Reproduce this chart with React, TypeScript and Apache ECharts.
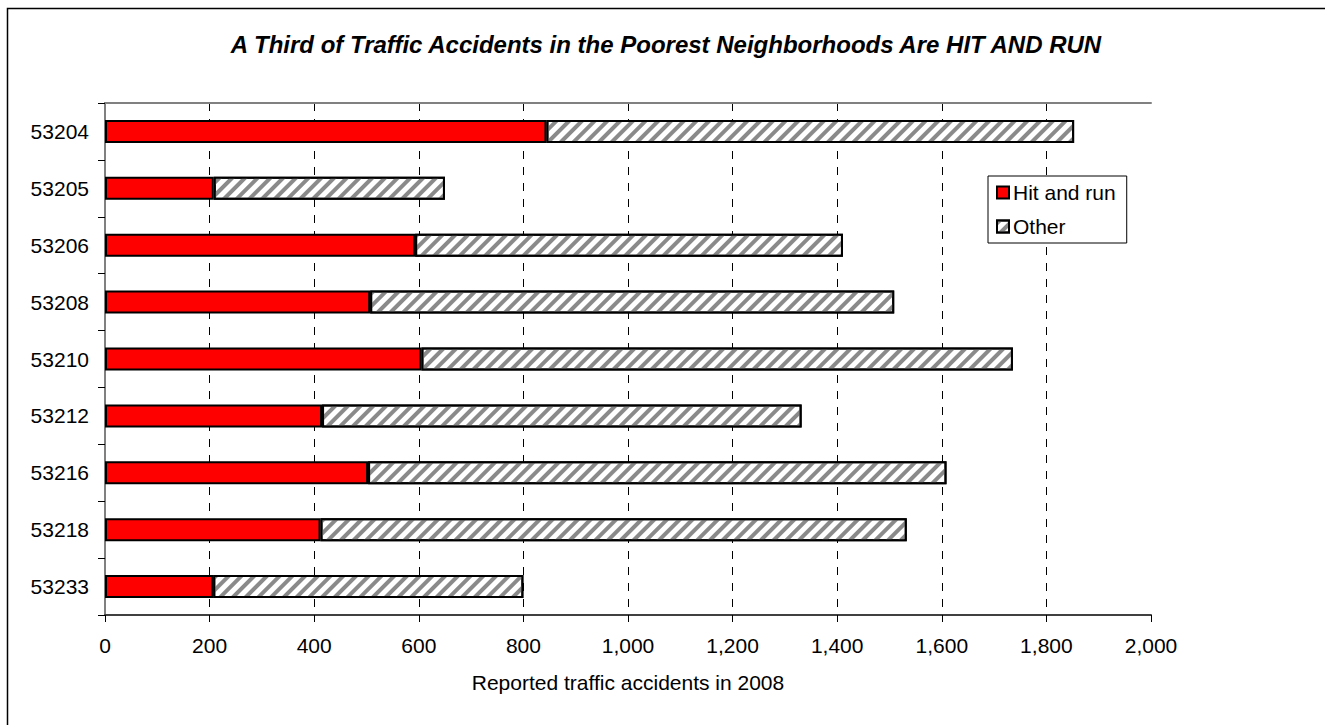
import React, { useEffect, useRef } from "react";
import * as echarts from "echarts";

const categories = ["53204", "53205", "53206", "53208", "53210", "53212", "53216", "53218", "53233"];
const hitAndRun = [844, 208, 593, 507, 605, 415, 503, 412, 207];
const other = [1009, 442, 818, 1002, 1131, 917, 1106, 1121, 593];
const seriesNames = ["Hit and run", "Other"];
const titleText = "A Third of Traffic Accidents in the Poorest Neighborhoods Are HIT AND RUN";
const xAxisTitle = "Reported traffic accidents in 2008";

const FONT = "'Liberation Sans', Arial, Helvetica, sans-serif";

export default function App() {
  const ref = useRef<HTMLDivElement>(null);
  useEffect(() => {
    if (!ref.current) return;
    const chart = echarts.init(ref.current, undefined, { renderer: "svg" });
    const fmt = (v: number) => v.toLocaleString("en-US");
    chart.setOption({
      animation: false,
      backgroundColor: "#ffffff",
      textStyle: { fontFamily: FONT },
      graphic: [
        {
          type: "rect",
          shape: { x: 7.5, y: 8.5, width: 1400, height: 800 },
          style: { fill: "none", stroke: "#000", lineWidth: 1.5 },
          silent: true,
          z: -1,
        },
        {
          type: "text",
          x: 666,
          y: 44,
          style: {
            text: titleText,
            font: `italic bold 24px ${FONT}`,
            fill: "#000",
            textAlign: "center",
            textVerticalAlign: "middle",
          },
        },
      ],
      legend: {
        data: seriesNames,
        orient: "vertical",
        left: 988,
        top: 176,
        padding: [6, 11, 6, 8],
        itemGap: 13,
        itemWidth: 12,
        itemHeight: 12,
        icon: "rect",
        backgroundColor: "#fff",
        borderColor: "#000",
        borderWidth: 1,
        textStyle: { fontSize: 21, color: "#000", fontFamily: FONT, padding: [0, 0, 0, -1] },
      },
      grid: { left: 105, top: 103, right: 174, bottom: 110, containLabel: false },
      xAxis: [
        {
          type: "value",
          min: 0,
          max: 2000,
          interval: 200,
          name: xAxisTitle,
          nameLocation: "middle",
          nameGap: 57,
          nameTextStyle: { fontSize: 21, color: "#000", fontFamily: FONT },
          axisLine: { show: true, lineStyle: { color: "#404040", width: 2 } },
          axisTick: { show: true, length: 7, inside: false, lineStyle: { color: "#000", width: 1 } },
          axisLabel: { fontSize: 21, color: "#000", margin: 20, formatter: fmt, fontFamily: FONT },
          splitLine: {
            show: true,
            showMinLine: false,
            showMaxLine: false,
            lineStyle: { color: "#000", width: 1, type: [8, 8] },
          },
        },
        {
          type: "value",
          position: "top",
          min: 0,
          max: 2000,
          interval: 200,
          axisLine: { show: true, lineStyle: { color: "#808080", width: 2 } },
          axisTick: { show: false },
          axisLabel: { show: false },
          splitLine: { show: false },
        },
      ],
      yAxis: [
        {
          type: "category",
          data: categories,
          inverse: true,
          axisLine: { show: true, lineStyle: { color: "#404040", width: 2 } },
          axisTick: { show: true, length: 7, inside: false, alignWithLabel: false, lineStyle: { color: "#000", width: 1 } },
          axisLabel: { fontSize: 21, color: "#000", margin: 16, fontFamily: FONT },
          splitLine: { show: false },
        },
        {
          type: "category",
          data: categories,
          inverse: true,
          position: "right",
          axisLine: { show: true, lineStyle: { color: "#808080", width: 2 } },
          axisTick: { show: false },
          axisLabel: { show: false },
          splitLine: { show: false },
        },
      ],
      series: [
        {
          name: seriesNames[0],
          type: "bar",
          stack: "total",
          barWidth: 23,
          data: hitAndRun,
          itemStyle: { color: "#ff0000", borderColor: "#000", borderWidth: 2 },
        },
        {
          name: seriesNames[1],
          type: "bar",
          stack: "total",
          barWidth: 23,
          data: other,
          itemStyle: {
            color: "#ffffff",
            borderColor: "#000",
            borderWidth: 2,
            decal: {
              symbol: "rect",
              symbolSize: 1,
              color: "#8a8a8a",
              dashArrayX: [1, 0],
              dashArrayY: [4, 5],
              rotation: -Math.PI / 4,
            },
          },
        },
      ],
    });
    return () => chart.dispose();
  }, []);
  return (
    <div
      ref={ref}
      style={{ position: "fixed", left: 0, top: 0, width: 1325, height: 725, background: "#fff" }}
    />
  );
}
